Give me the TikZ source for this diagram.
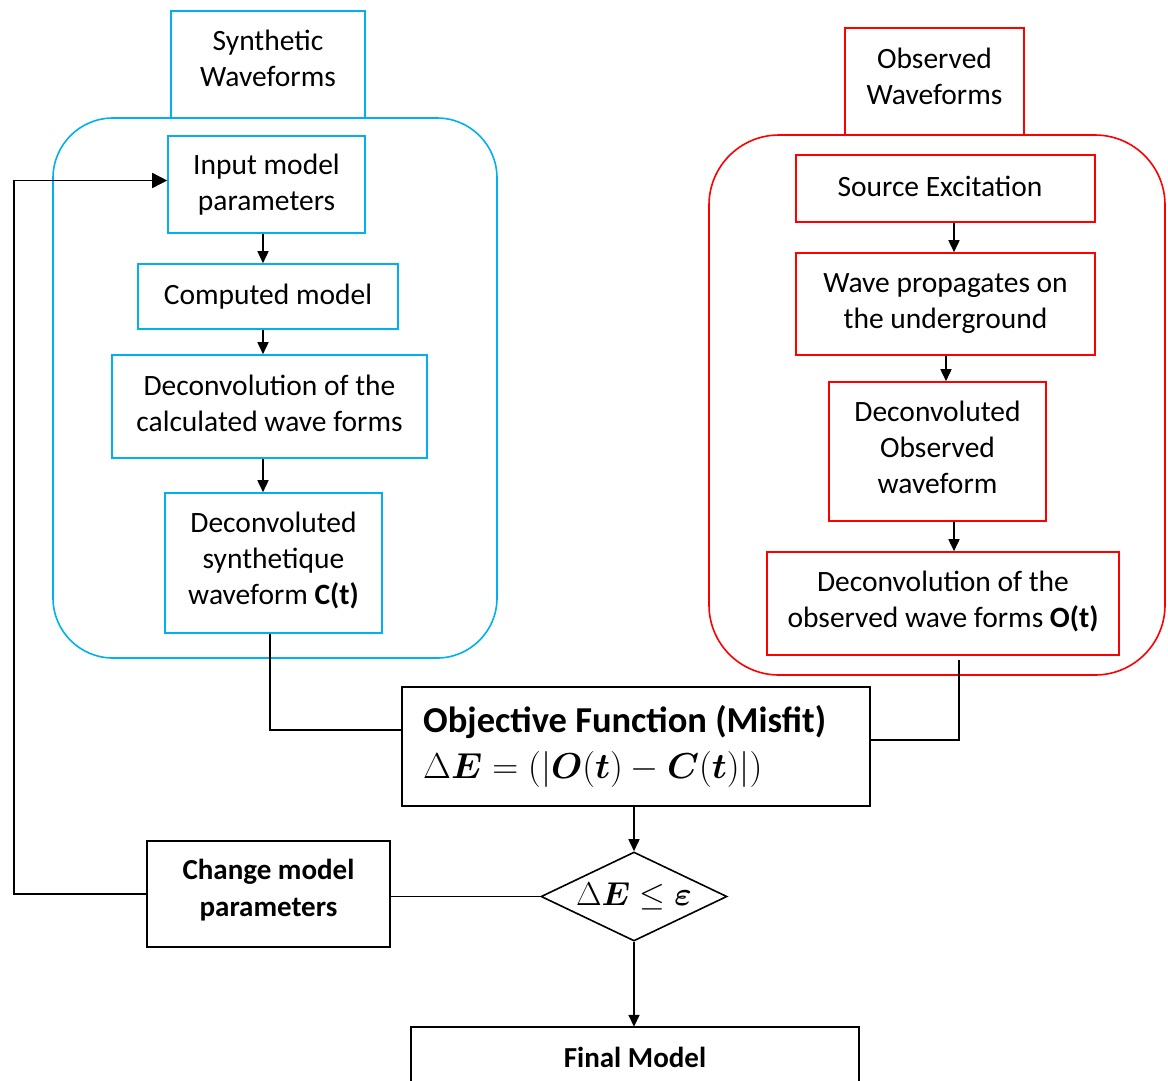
\documentclass[tikz,border=0pt]{standalone}
\usepackage{amsmath,bm}
\usepackage{fontspec}
\setmainfont{Carlito}
\usetikzlibrary{shapes.geometric,arrows.meta}
\definecolor{sblue}{HTML}{00B0F0}
\definecolor{sred}{HTML}{FF0000}
\begin{document}
\begin{tikzpicture}[x=1pt,y=-1pt,
  txt/.style={font=\fontsize{29.5}{36}\selectfont, align=center, inner sep=0},
  bbox/.style={txt, draw=sblue, line width=1.6},
  rbox/.style={txt, draw=sred, line width=1.6},
  kbox/.style={draw=black, line width=1.6, inner sep=0},
  conn/.style={line width=1.6, draw=black},
  arr/.style={conn, -{Triangle[length=12,width=11]}},
  bigarr/.style={conn, -{Triangle[length=15,width=15]}}]
\useasboundingbox (0,0) rectangle (1168,1080);
% left side
\node[draw=sblue, line width=1.6, rounded corners=60, minimum width=444, minimum height=540, inner sep=0] (bframe) at (275,388) {};
\node[bbox, fill=white, minimum width=194, minimum height=107] (syn) at (268,64.5) {};
\node[txt] (synt) at (268,58) {Synthetic\\Waveforms};
\node[bbox, minimum width=197, minimum height=97] (inp) at (266.5,184.5) {Input model\\parameters};
\node[bbox, minimum width=260, minimum height=65] (comp) at (268,296.5) {Computed model};
\node[bbox, minimum width=315, minimum height=103] (dec1) at (269.5,406.5) {};
\node[txt] (dec1t) at (269.5,403) {Deconvolution of the\\calculated wave forms};
\node[bbox, minimum width=217, minimum height=140] (cts) at (273.5,563) {};
\node[txt] (ctst) at (273.5,560) {Deconvoluted\\synthetique\\waveform \textbf{C(t)}};
% right side
\node[draw=sred, line width=1.6, rounded corners=70, minimum width=456, minimum height=540, inner sep=0] (rframe) at (937,405) {};
\node[rbox, fill=white, minimum width=179, minimum height=107] (obs) at (934.5,81.5) {};
\node[txt] (obst) at (934.5,76) {Observed\\Waveforms};
\node[rbox, minimum width=299, minimum height=67] (src) at (945.5,188.5) {};
\node[txt] (srct) at (940,186) {Source Excitation};
\node[rbox, minimum width=299, minimum height=102] (wave) at (945.5,304) {Wave propagates on\\the underground};
\node[rbox, minimum width=217, minimum height=139] (dobs) at (937.5,451.5) {};
\node[txt] (dobst) at (937.5,447.5) {Deconvoluted\\Observed\\waveform};
\node[rbox, minimum width=352, minimum height=103] (ots) at (943,603.5) {};
\node[txt] (otst) at (943,601) {Deconvolution of the\\observed wave forms \textbf{O(t)}};
% centre
\node[kbox, minimum width=468, minimum height=119] (obj) at (636,746.5) {};
\node[txt, anchor=west, align=left, font=\fontsize{36.5}{46}\selectfont] (objt) at (423,746)
  {\textbf{Objective Function (Misfit)}\\\scalebox{1.45}{$\Delta\bm{E}=(|\bm{O}(\bm{t})-\bm{C}(\bm{t})|)$}};
\node[kbox, shape=diamond, aspect=2.09, minimum width=186, minimum height=89, font=\fontsize{24.88}{30}\selectfont] (dia) at (634,896.5) {\scalebox{1.33}{$\Delta\bm{E}\leq\bm{\varepsilon}$}};
\node[kbox, minimum width=243, minimum height=106] (chg) at (268.5,894) {};
\node[txt, font=\fontsize{29}{37}\selectfont\bfseries] (chgt) at (268.5,890) {Change model\\parameters};
\node[txt, minimum width=448, minimum height=60, font=\fontsize{29}{30}\selectfont\bfseries] (final) at (635,1057) {Final Model};
\draw[conn] (final.south west) |- (final.north east) -- (final.south east);
% arrows left
\draw[arr] ([xshift=-3.5]inp.south) -- ([xshift=-3.5]inp.south |- comp.north);
\draw[arr] ([xshift=-5]comp.south) -- ([xshift=-5]comp.south |- dec1.north);
\draw[arr] ([xshift=-6.5]dec1.south) -- ([xshift=-6.5]dec1.south |- cts.north);
% arrows right
\draw[arr] ([xshift=8.5]src.south) -- ([xshift=8.5]src.south |- wave.north);
\draw[arr] ([xshift=0.5]wave.south) -- ([xshift=0.5]wave.south |- dobs.north);
\draw[arr] ([xshift=16.5]dobs.south) -- ([xshift=16.5]dobs.south |- ots.north);
% to objective
\draw[conn] ([xshift=-3.5]cts.south) |- ([yshift=16.5]obj.west);
\coordinate (rc) at (959,660);
\draw[conn] (rc) |- ([yshift=6.5]obj.east);
\draw[arr] (obj.south -| dia.north) -- (dia.north);
\draw[arr] (dia.south) -- (final.north -| dia.south);
\draw[conn] (dia.west) -- (dia.west -| chg.east);
\coordinate (loop) at (14,894);
\draw[bigarr] (chg.west) -- (loop) |- ([yshift=4]inp.west);
\end{tikzpicture}
\end{document}
